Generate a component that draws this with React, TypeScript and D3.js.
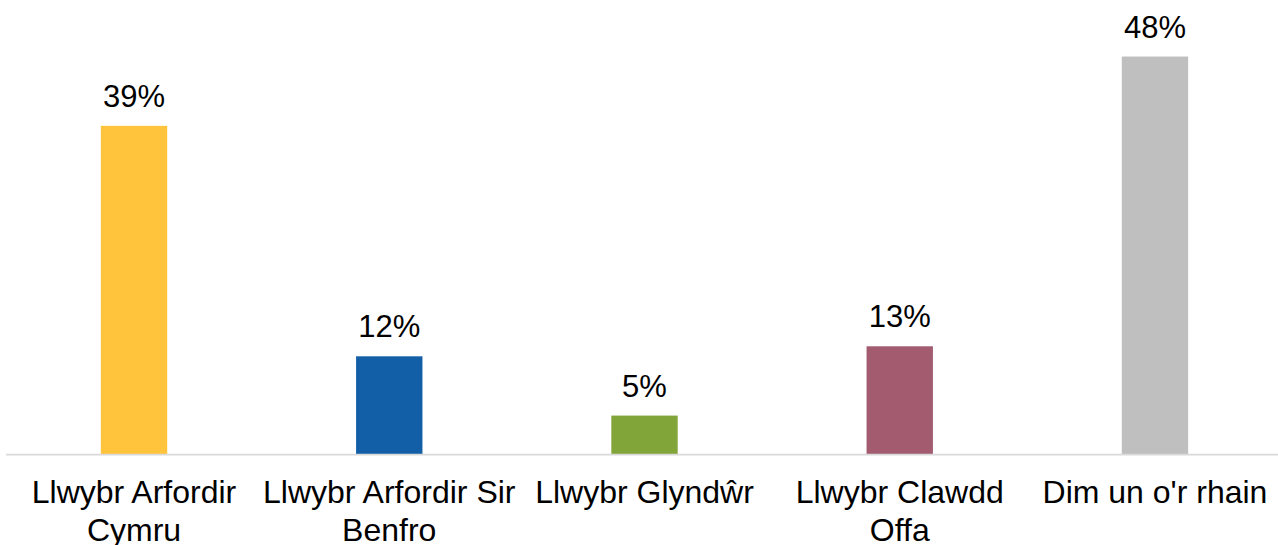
import React, { useEffect, useRef } from "react";
import * as d3 from "d3";

const width = 1278;
const height = 545;

// category labels, share of respondents (%), bar colours
const categories = [
  "Llwybr Arfordir Cymru",
  "Llwybr Arfordir Sir Benfro",
  "Llwybr Glyndŵr",
  "Llwybr Clawdd Offa",
  "Dim un o'r rhain",
];
const values = [39.3, 11.7, 4.6, 12.9, 47.6];
const colors = ["#FFC33C", "#125FA8", "#82A539", "#A25B6F", "#BFBFBF"];

const font = "'Liberation Sans', Arial, sans-serif";

export default function App() {
  const labelsRef = useRef<SVGGElement>(null);

  const x = d3
    .scaleBand<string>()
    .domain(categories)
    .range([6.4, 1282.6])
    .paddingInner(0.74)
    .paddingOuter(0.37);

  const y = d3.scaleLinear().domain([0, 50]).range([454, 36.5]);
  const fmt = (v: number) => `${Math.round(v)}%`;

  // wrap category labels to the band step
  useEffect(() => {
    const g = d3.select(labelsRef.current);
    g.selectAll("text").each(function () {
      const text = d3.select(this as SVGTextElement);
      const words = (text.attr("data-label") || "").split(" ");
      const cx = text.attr("x");
      text.text(null);
      let line: string[] = [];
      let tspan = text.append("tspan").attr("x", cx).attr("dy", 0);
      for (const w of words) {
        line.push(w);
        tspan.text(line.join(" "));
        if ((tspan.node() as SVGTSpanElement).getComputedTextLength() > 254 && line.length > 1) {
          line.pop();
          tspan.text(line.join(" "));
          line = [w];
          tspan = text.append("tspan").attr("x", cx).attr("dy", 38).text(w);
        }
      }
    });
  }, []);

  return (
    <svg
      width={width}
      height={height}
      style={{ position: "absolute", left: 0, top: 0, background: "#fff" }}
      fontFamily={font}
    >
      {categories.map((c, i) => (
        <rect
          key={c}
          x={x(c)}
          y={y(values[i])}
          width={x.bandwidth()}
          height={y(0) - y(values[i])}
          fill={colors[i]}
        />
      ))}
      <line x1={6} x2={width} y1={454.5} y2={454.5} stroke="#D9D9D9" strokeWidth={1.75} />
      {categories.map((c, i) => (
        <text
          key={c + "v"}
          x={(x(c) ?? 0) + x.bandwidth() / 2}
          y={y(values[i]) - 19}
          textAnchor="middle"
          fontSize={31}
          fill="#000"
        >
          {fmt(values[i])}
        </text>
      ))}
      <g ref={labelsRef}>
        {categories.map((c) => (
          <text
            key={c + "l"}
            data-label={c}
            x={(x(c) ?? 0) + x.bandwidth() / 2}
            y={503}
            textAnchor="middle"
            fontSize={32}
            fill="#000"
          >
            {c}
          </text>
        ))}
      </g>
    </svg>
  );
}
